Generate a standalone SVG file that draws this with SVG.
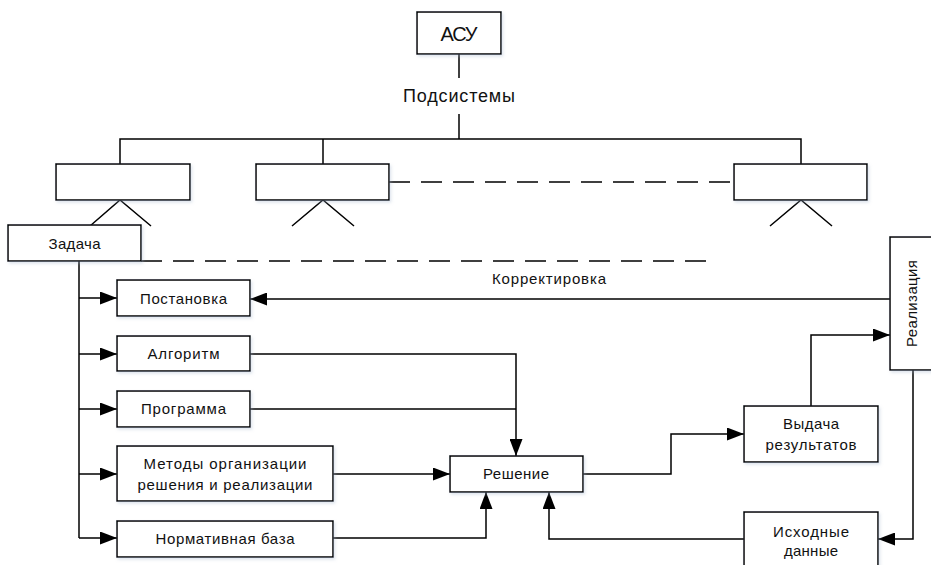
<svg xmlns="http://www.w3.org/2000/svg" width="931" height="565" viewBox="0 0 931 565">
<style>
  .box { fill: #ffffff; stroke: #000000; stroke-width: 1.5; filter: url(#sh); }
  .ln { fill: none; stroke: #000000; stroke-width: 1.5; }
  .dash { fill: none; stroke: #000000; stroke-width: 1.5; stroke-dasharray: 21 11; }
  .arr { marker-end: url(#ah); }
  .t { font-family: "Liberation Sans", Arial, sans-serif; font-size: 15px; fill: #111111; text-anchor: middle; }
  .big { font-size: 20px; }
  .mid { font-size: 18px; }
</style>
<defs>
  <marker id="ah" markerUnits="userSpaceOnUse" markerWidth="18" markerHeight="13" refX="17" refY="6.5" orient="auto">
    <path d="M0,0 L17,6.5 L0,13 Z" fill="#000000"/>
  </marker>
  <filter id="sh" x="-10%" y="-10%" width="125%" height="135%">
    <feDropShadow dx="1.5" dy="2" stdDeviation="1.5" flood-color="#9fb3cc" flood-opacity="0.35"/>
  </filter>
</defs>
<rect width="931" height="565" fill="#ffffff"/>

<g id="connectors">
  <path class="ln" d="M459,54 V78"/>
  <path class="ln" d="M459,114 V139"/>
  <path class="ln" d="M120,164 V139 H801 V164"/>
  <path class="ln" d="M323,139 V164"/>
  <path class="dash" d="M389,182 H734"/>
  <path class="ln" d="M90,226 L120,200 L151,226"/>
  <path class="ln" d="M292,226 L323,200 L354,226"/>
  <path class="ln" d="M770,226 L801,200 L832,226"/>
  <path class="dash" d="M141,261 H710"/>
  <path class="ln" d="M79,261 V538"/>
  <path class="ln arr" d="M79,298 H117"/>
  <path class="ln arr" d="M79,354 H117"/>
  <path class="ln arr" d="M79,409 H117"/>
  <path class="ln arr" d="M79,474 H117"/>
  <path class="ln arr" d="M79,538 H117"/>
  <path class="ln arr" d="M250,354 H516 V456"/>
  <path class="ln" d="M250,409 H516"/>
  <path class="ln arr" d="M333,474 H450"/>
  <path class="ln arr" d="M333,538 H486 V492"/>
  <path class="ln arr" d="M890,299 H250"/>
  <path class="ln arr" d="M583,474 H671 V434 H744"/>
  <path class="ln arr" d="M811,406 V335 H890"/>
  <path class="ln arr" d="M913,370 V539 H878"/>
  <path class="ln arr" d="M744,539 H549 V492"/>
  <text class="t" x="549" y="284" textLength="114">Корректировка</text>
  <text class="t mid" x="459" y="102" textLength="112">Подсистемы</text>
</g>

<g id="asu">
  <rect class="box" x="417" y="12" width="84" height="42"/>
  <text class="t big" x="459" y="41" textLength="37">АСУ</text>
</g>
<g id="sub1"><rect class="box" x="56" y="164" width="134" height="36"/></g>
<g id="sub2"><rect class="box" x="256" y="164" width="133" height="36"/></g>
<g id="sub3"><rect class="box" x="734" y="164" width="133" height="36"/></g>
<g id="zadacha">
  <rect class="box" x="8" y="225" width="133" height="36"/>
  <text class="t" x="74.5" y="249" textLength="52">Задача</text>
</g>
<g id="postanovka">
  <rect class="box" x="117" y="280" width="133" height="36"/>
  <text class="t" x="183.5" y="304" textLength="87">Постановка</text>
</g>
<g id="algoritm">
  <rect class="box" x="117" y="336" width="133" height="35"/>
  <text class="t" x="183.5" y="359" textLength="72">Алгоритм</text>
</g>
<g id="programma">
  <rect class="box" x="117" y="391" width="133" height="36"/>
  <text class="t" x="183.5" y="414" textLength="85">Программа</text>
</g>
<g id="metody">
  <rect class="box" x="117" y="446" width="216" height="55"/>
  <text class="t" x="225" y="469" textLength="163">Методы организации</text>
  <text class="t" x="225" y="490" textLength="175">решения и реализации</text>
</g>
<g id="normbaza">
  <rect class="box" x="117" y="521" width="216" height="36"/>
  <text class="t" x="225" y="544" textLength="139">Нормативная база</text>
</g>
<g id="reshenie">
  <rect class="box" x="450" y="456" width="133" height="36"/>
  <text class="t" x="516" y="479" textLength="66">Решение</text>
</g>
<g id="vydacha">
  <rect class="box" x="744" y="406" width="134" height="56"/>
  <text class="t" x="811" y="429" textLength="56">Выдача</text>
  <text class="t" x="811" y="450" textLength="91">результатов</text>
</g>
<g id="ishodnye">
  <rect class="box" x="744" y="512" width="134" height="58"/>
  <text class="t" x="811" y="537" textLength="76">Исходные</text>
  <text class="t" x="811" y="556" textLength="54">данные</text>
</g>
<g id="realizaciya">
  <rect class="box" x="890" y="237" width="44" height="133"/>
  <text class="t" transform="translate(917,303.5) rotate(-90)" x="0" y="0" textLength="87">Реализация</text>
</g>
</svg>
